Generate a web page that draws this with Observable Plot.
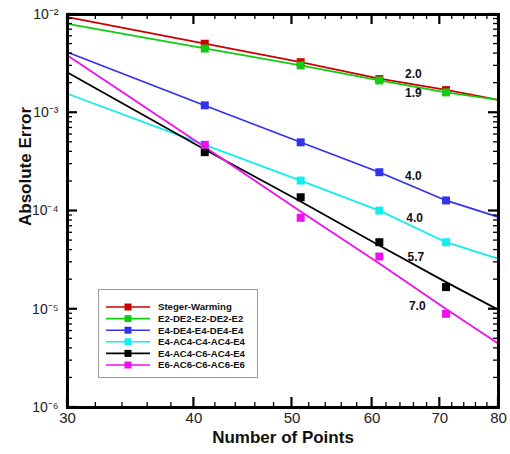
<!DOCTYPE html>
<html><head><meta charset="utf-8">
<script src="https://cdn.jsdelivr.net/npm/d3@7"></script>
<script src="https://cdn.jsdelivr.net/npm/@observablehq/plot@0.6"></script>
<style>
body{margin:0;background:#fff;}
#wrap{position:relative;width:510px;height:454px;font-family:"Liberation Sans",Arial,Helvetica,sans-serif;}
#legend{position:absolute;left:98px;top:289px;}
</style></head><body><div id="wrap"></div>
<script>
const series = ["Steger-Warming","E2-DE2-E2-DE2-E2","E4-DE4-E4-DE4-E4","E4-AC4-C4-AC4-E4","E4-AC4-C6-AC4-E4","E6-AC6-C6-AC6-E6"];
const colors = ["#cc0000","#11cc11","#3333ee","#11eeee","#000000","#ee11ee"];

// line curves
const lineX = [30,41,51,61,71,80];
const lineSW   = [9.39e-3,5.04e-3,3.27e-3,2.23e-3,1.71e-3,1.355e-3];
const lineE2   = [8.04e-3,4.51e-3,3.03e-3,2.13e-3,1.61e-3,1.35e-3];
const lineE4D  = [4.13e-3,1.186e-3,5.01e-4,2.48e-4,1.28e-4,8.65e-5];
const lineE4C4 = [1.56e-3,4.70e-4,2.04e-4,1.01e-4,4.81e-5,3.26e-5];
const lineE4C6 = [2.57e-3,4.23e-4,1.25e-4,4.46e-5,1.89e-5,9.86e-6];
const lineE6   = [3.83e-3,4.47e-4,9.9e-5,2.92e-5,1.007e-5,4.45e-6];

// square markers
const markX = [41,51,61,71];
const markSW   = [5.04e-3,3.27e-3,2.20e-3,1.70e-3];
const markE2   = [4.50e-3,3.03e-3,2.13e-3,1.61e-3];
const markE4D  = [1.19e-3,5.0e-4,2.48e-4,1.28e-4];
const markE4C4 = [4.70e-4,2.04e-4,1.01e-4,4.81e-5];
const markE4C6 = [3.97e-4,1.38e-4,4.81e-5,1.68e-5];
const markE6   = [4.72e-4,8.53e-5,3.44e-5,8.99e-6];

// order-of-accuracy labels
const orderText = ["2.0","1.9","4.0","4.0","5.7","7.0"];
const orderX = [65.9,65.9,65.9,66.1,66.3,66.5];
const orderY = [2.45e-3,1.57e-3,2.24e-4,8.39e-5,3.37e-5,1.07e-5];

// ticks
const xMajor = [30,40,50,60,70,80];
const xMinor = [32,34,36,38,42,44,46,48,52,54,56,58,62,64,66,68,72,74,76,78];
const yMajor = [1e-2,1e-3,1e-4,1e-5,1e-6];
const yMajorLabels = ["10\u207B\u00B2","10\u207B\u00B3","10\u207B\u2074","10\u207B\u2075","10\u207B\u2076"];
const yMinor = [];
for (const e of [-6,-5,-4,-3]) for (const m of [2,3,4,5,6,7,8,9]) yMinor.push(m * Math.pow(10, e));

const lineSets = [lineSW,lineE2,lineE4D,lineE4C4,lineE4C6,lineE6];
const markSets = [markSW,markE2,markE4D,markE4C4,markE4C6,markE6];
const lineRows = [], markRows = [];
series.forEach((s, k) => {
  lineX.forEach((x, i) => lineRows.push({series: s, x, y: lineSets[k][i]}));
  markX.forEach((x, i) => markRows.push({series: s, x, y: markSets[k][i]}));
});
const labelRows = orderText.map((t, i) => ({t, x: orderX[i], y: orderY[i]}));

// inward ticks on all four sides, placed with the plot's own scales
function innerTicks(index, scales, values, dims) {
  const {x, y} = scales;
  const L = dims.marginLeft, R = dims.width - dims.marginRight;
  const T = dims.marginTop, B = dims.height - dims.marginBottom;
  const g = d3.create("svg:g").attr("stroke", "#000").attr("fill", "none");
  const add = (x1, y1, x2, y2, w) => g.append("line").attr("x1", x1).attr("y1", y1).attr("x2", x2).attr("y2", y2).attr("stroke-width", w);
  for (const v of xMajor) { const p = x(v); add(p, B, p, B - 10, 2.2); add(p, T, p, T + 10, 2.2); }
  for (const v of xMinor) { const p = x(v); add(p, B, p, B - 5, 1.3); add(p, T, p, T + 5, 1.3); }
  for (const v of yMajor) { const p = y(v); add(L, p, L + 10, p, 2.2); add(R, p, R - 10, p, 2.2); }
  for (const v of yMinor) { const p = y(v); add(L, p, L + 5, p, 1.3); add(R, p, R - 5, p, 1.3); }
  return g.node();
}

const font = "'Liberation Sans', Arial, Helvetica, sans-serif";
const chart = Plot.plot({
  width: 510, height: 454,
  marginLeft: 67, marginRight: 12, marginTop: 14, marginBottom: 47,
  style: {fontFamily: font, background: "white", color: "#222"},
  x: {type: "log", domain: [30, 80]},
  y: {type: "log", domain: [1e-6, 1e-2]},
  color: {domain: series, range: colors},
  marks: [
    Plot.line(lineRows, {x: "x", y: "y", z: "series", stroke: "series", strokeWidth: 1.8}),
    Plot.dot(markRows, {x: "x", y: "y", fill: "series", symbol: "square", r: 4.5, stroke: null}),
    Plot.text(labelRows, {x: "x", y: "y", text: "t", fontWeight: "bold", fontSize: 12, fill: "#111"}),
    Plot.axisX(xMajor, {anchor: "bottom", tickSize: 0, tickPadding: 5, fontSize: 15, tickFormat: d => String(d), label: null}),
    Plot.axisY(yMajor, {anchor: "left", tickSize: 0, tickPadding: 9, fontSize: 14, tickFormat: d => yMajorLabels[yMajor.indexOf(d)], label: null}),
    Plot.text(["Number of Points"], {frameAnchor: "bottom", dy: 35, fontWeight: "bold", fontSize: 17, fill: "#111"}),
    Plot.text(["Absolute Error"], {frameAnchor: "left", dx: -42, dy: 15, rotate: -90, fontWeight: "bold", fontSize: 17, fill: "#111"}),
    Plot.frame({stroke: "#000", strokeWidth: 3}),
    innerTicks
  ]
});
const wrap = document.getElementById("wrap");
wrap.appendChild(chart);

// legend overlay
const lg = d3.select(wrap).append("svg").attr("id", "legend").attr("width", 161).attr("height", 90);
lg.append("rect").attr("x", 0.5).attr("y", 0.5).attr("width", 159).attr("height", 88)
  .attr("fill", "white").attr("stroke", "#9a9a9a").attr("stroke-width", 1);
series.forEach((s, i) => {
  const y = 18 + i * 11.6;
  lg.append("line").attr("x1", 8).attr("x2", 52).attr("y1", y).attr("y2", y)
    .attr("stroke", colors[i]).attr("stroke-width", 1.6);
  lg.append("rect").attr("x", 26.5).attr("y", y - 3.5).attr("width", 7).attr("height", 7).attr("fill", colors[i]);
  lg.append("text").attr("x", 60).attr("y", y).attr("dy", "0.35em")
    .attr("font-family", font).attr("font-size", 9.6).attr("font-weight", "bold").attr("fill", "#111").text(s);
});
</script></body></html>
